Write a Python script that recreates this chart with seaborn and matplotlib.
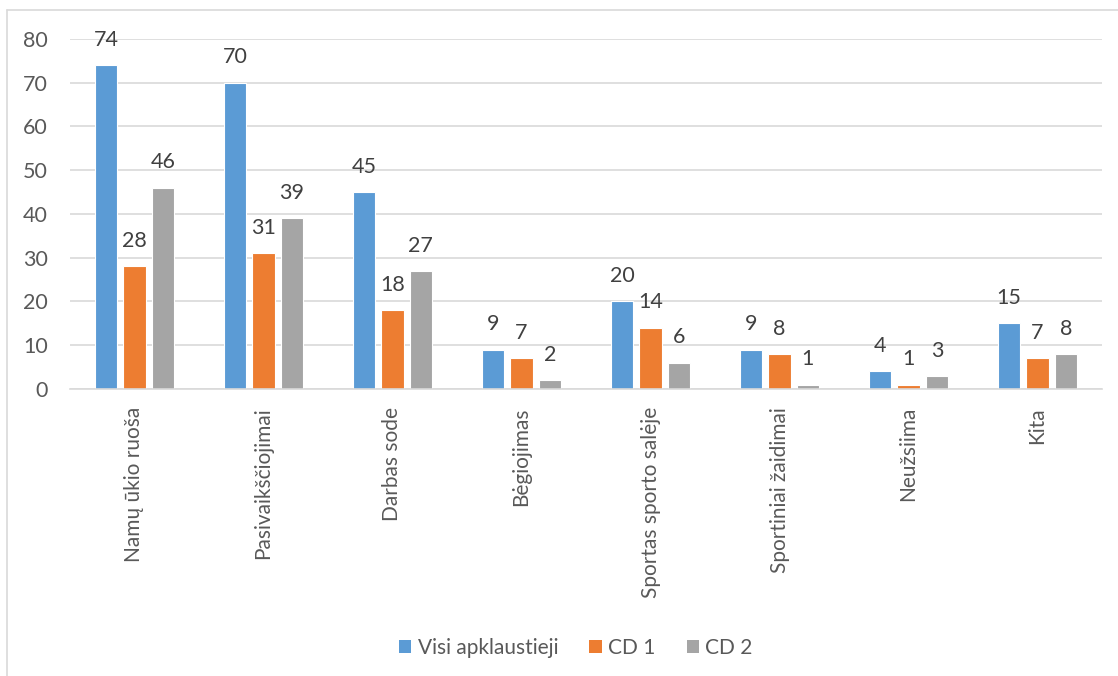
import matplotlib
matplotlib.use("Agg")
import matplotlib.pyplot as plt
import seaborn as sns
import pandas as pd
from matplotlib.lines import Line2D
from matplotlib.patches import Patch

categories = ["Namų ūkio ruoša", "Pasivaikščiojimai", "Darbas sode", "Bėgiojimas",
              "Sportas sporto salėje", "Sportiniai žaidimai", "Neužsiima", "Kita"]
series_names = ["Visi apklaustieji", "CD 1", "CD 2"]
visi = [74, 70, 45, 9, 20, 9, 4, 15]
cd1 = [28, 31, 18, 7, 14, 8, 1, 7]
cd2 = [46, 39, 27, 2, 6, 1, 3, 8]
colors = ["#5B9BD5", "#ED7D31", "#A5A5A5"]
yticks = [0, 10, 20, 30, 40, 50, 60, 70, 80]

rows = []
for name, vals in zip(series_names, [visi, cd1, cd2]):
    for c, v in zip(categories, vals):
        rows.append({"cat": c, "series": name, "value": v})
df = pd.DataFrame(rows)

sns.set_theme(style="white")
plt.rcParams["font.family"] = ["Lato", "DejaVu Sans"]

fig = plt.figure(figsize=(11.18, 6.76), dpi=100)
ax = fig.add_axes([0.0626, 0.4246, 0.9231, 0.5177])

sns.barplot(data=df, x="cat", y="value", hue="series", order=categories,
            hue_order=series_names, palette=colors, width=0.66, gap=0.22,
            edgecolor="white", linewidth=0.8, legend=False, ax=ax, saturation=1)

for cont in ax.containers:
    ax.bar_label(cont, padding=11, fontsize=15.5, color="#404040")

ax.set_ylim(0, 80)
ax.set_xlim(-0.5, len(categories) - 0.5)
ax.set_yticks(yticks)
ax.yaxis.grid(True, color="#D9D9D9", linewidth=1.2)
ax.set_axisbelow(True)
for s in ["top", "right", "left"]:
    ax.spines[s].set_visible(False)
ax.spines["bottom"].set_color("#D9D9D9")
ax.spines["bottom"].set_linewidth(1.2)
ax.set_xlabel("")
ax.set_ylabel("")
ax.tick_params(axis="y", length=0, labelsize=15.5, colors="#595959", pad=16)
ax.tick_params(axis="x", length=0, labelsize=15, colors="#595959", pad=13)
for lbl in ax.get_xticklabels():
    lbl.set_rotation(90)
    lbl.set_va("top")
    lbl.set_ha("center")

handles = [Patch(facecolor=c, edgecolor="none") for c in colors]
fig.legend(handles, series_names, loc="center", bbox_to_anchor=(0.515, 0.042),
           ncol=3, frameon=False, fontsize=15, labelcolor="#595959",
           handlelength=0.6, handleheight=0.6, handletextpad=0.3, columnspacing=1.5)

# chart area border (left and top visible)
fig.add_artist(Line2D([7 / 1118, 7 / 1118], [0, 1 - 10 / 676], transform=fig.transFigure,
                      color="#D9D9D9", linewidth=1.2))
fig.add_artist(Line2D([7 / 1118, 1], [1 - 10 / 676, 1 - 10 / 676], transform=fig.transFigure,
                      color="#D9D9D9", linewidth=1.2))

fig.savefig("out.png", dpi=100)
